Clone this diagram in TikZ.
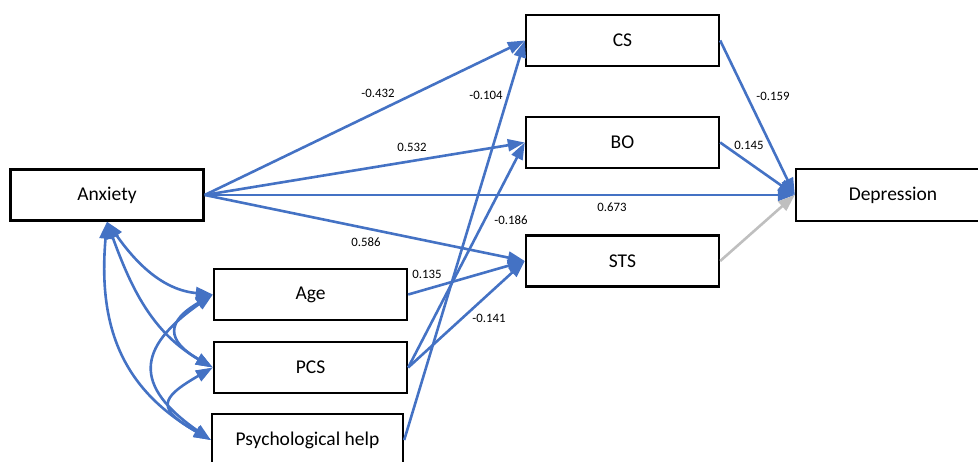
\documentclass[tikz,border=0pt]{standalone}
\usepackage{fontspec}
\setmainfont{Carlito}
\usetikzlibrary{arrows.meta}
\definecolor{pathblue}{RGB}{68,114,196}
\definecolor{weakgray}{RGB}{191,191,191}
\tikzset{
varbox/.style={draw=black, line width=2.4pt, minimum width=193pt, minimum height=51pt, inner sep=0pt, font=\fontsize{19.5}{23}\selectfont},
pathline/.style={-{Triangle[length=17pt,width=12pt]}, line width=2.6pt, draw=pathblue},
weakline/.style={-{Triangle[length=17pt,width=12pt]}, line width=2.6pt, draw=weakgray},
corrline/.style={{Triangle[length=17pt,width=12pt]}-{Triangle[length=17pt,width=12pt]}, line width=2.6pt, draw=pathblue},
coef/.style={font=\fontsize{12.8}{15}\selectfont, text=black}
}

\begin{document}
\begin{tikzpicture}[x=1pt,y=1pt]

\clip (0,0) rectangle (978,461);

% variables
\node[varbox] (anxiety) at (107,266) {Anxiety};
\node[varbox] (cs) at (622.5,420.5) {CS};
\node[varbox] (bo) at (622.5,318.5) {BO};
\node[varbox] (sts) at (622.5,200) {STS};
\node[varbox, minimum width=194pt, minimum height=52pt] (depression) at (893,266) {Depression};
\node[varbox] (age) at (310.5,166.5) {Age};
\node[varbox] (pcs) at (310.5,93.5) {PCS};
\node[varbox, minimum width=191pt, minimum height=52pt] (help) at (307.5,21) {Psychological help};

% direct paths
\draw[pathline] (anxiety.east) -- (cs.west);
\draw[pathline] (anxiety.east) -- (bo.west);
\draw[pathline] (anxiety.east) -- (depression.west);
\draw[pathline] (anxiety.east) -- (sts.west);
\draw[pathline] (age.east) -- (sts.west);
\draw[pathline] (pcs.east) -- (sts.west);
\draw[pathline] (pcs.east) -- (bo.west);
\draw[pathline] (help.east) -- (cs.west);
\draw[pathline] (cs.east) -- (depression.west);
\draw[pathline] (bo.east) -- (depression.west);
\draw[weakline] (sts.east) -- (depression.west);

% covariances
\draw[corrline] (anxiety.south) to[out=-55, in=175] (age.west);
\draw[corrline] (anxiety.south) to[out=-70, in=150] (pcs.west);
\draw[corrline] (anxiety.south) to[out=-95, in=150, looseness=1.1] (help.west);
\draw[corrline] (age.west) to[out=210, in=150, looseness=1.9] (pcs.west);
\draw[corrline] (pcs.west) to[out=210, in=150, looseness=2.2] (help.west);
\draw[corrline] (age.west) to[out=215, in=145, looseness=1.65] (help.west);

% coefficients
\node[coef] (c1) at (378,368) {-0.432};
\node[coef] (c2) at (486,366) {-0.104};
\node[coef] (c3) at (412,314) {0.532};
\node[coef] (c4) at (366,219) {0.586};
\node[coef] (c5) at (427,187) {0.135};
\node[coef] (c6) at (511,241) {-0.186};
\node[coef] (c7) at (489,143) {-0.141};
\node[coef] (c8) at (612,254) {0.673};
\node[coef] (c9) at (773,365) {-0.159};
\node[coef] (c10) at (749,316) {0.145};

\end{tikzpicture}
\end{document}
